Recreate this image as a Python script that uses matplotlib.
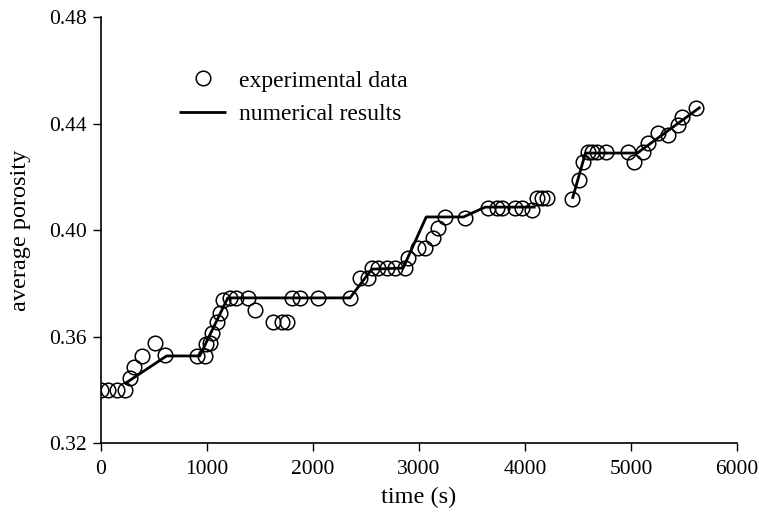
import numpy as np
import matplotlib
matplotlib.use("Agg")
import matplotlib.pyplot as plt

# experimental data
exp_time = [0, 70, 150, 230, 270, 310, 390, 506, 600, 903, 978, 995, 1025, 1045,
            1090, 1120, 1150, 1215, 1270, 1385, 1450, 1620, 1706, 1753, 1800, 1876,
            2046, 2349, 2443, 2520, 2557, 2615, 2700, 2775, 2870, 2900, 2990, 3055,
            3130, 3180, 3245, 3430, 3648, 3733, 3785, 3908, 3974, 4068, 4115, 4163,
            4210, 4447, 4505, 4550, 4590, 4636, 4683, 4760, 4967, 5025, 5110, 5157,
            5250, 5345, 5440, 5485, 5610]
exp_por = [0.340, 0.340, 0.340, 0.340, 0.3444, 0.3485, 0.3527, 0.3576, 0.3531, 0.3527,
           0.3527, 0.357, 0.3576, 0.3613, 0.3654, 0.369, 0.3737, 0.3745, 0.3745, 0.3745,
           0.370, 0.3654, 0.3654, 0.3654, 0.3745, 0.3745, 0.3745, 0.3745, 0.382, 0.382,
           0.3857, 0.3857, 0.3857, 0.3857, 0.3857, 0.3895, 0.3932, 0.3932, 0.397, 0.4007,
           0.4049, 0.4045, 0.4083, 0.4083, 0.4083, 0.4083, 0.4083, 0.4075, 0.412, 0.412,
           0.412, 0.4117, 0.4188, 0.4255, 0.4293, 0.4293, 0.4293, 0.4293, 0.4293, 0.4255,
           0.4293, 0.4327, 0.4364, 0.4357, 0.4394, 0.4424, 0.4458]

# numerical results (gap between segments)
num_time = [222, 619, 931, 1196, 2349, 2555, 2850, 3068, 3420, 3625, 4100, np.nan,
            4447, 4570, 5060, 5655]
num_por = [0.3422, 0.3527, 0.3527, 0.3745, 0.3745, 0.3853, 0.3857, 0.4049, 0.4049,
           0.4086, 0.4086, np.nan, 0.4117, 0.4289, 0.4289, 0.4462]

x_ticks = [0, 1000, 2000, 3000, 4000, 5000, 6000]
y_ticks = [0.32, 0.36, 0.40, 0.44, 0.48]
y_tick_labels = ["0.32", "0.36", "0.40", "0.44", "0.48"]

plt.rcParams['font.family'] = ['Liberation Serif', 'DejaVu Serif']
fs = 17.5
fs_tick = 15.5

fig = plt.figure(figsize=(7.59, 5.17), dpi=100)
ax = fig.add_axes([101 / 759, 74 / 517, 636 / 759, 426 / 517])

ax.plot(num_time, num_por, color='black', lw=2.0, solid_capstyle='butt',
        label='numerical results', zorder=2)
ax.plot(exp_time, exp_por, linestyle='none', marker='o', markersize=10.5,
        markerfacecolor='none', markeredgecolor='black', markeredgewidth=1.1,
        label='experimental data', zorder=3)

ax.set_xlim(0, 6000)
ax.set_ylim(0.32, 0.48)
ax.set_xticks(x_ticks)
ax.set_yticks(y_ticks)
ax.set_yticklabels(y_tick_labels)
ax.tick_params(axis='both', direction='out', length=6, width=1, labelsize=fs_tick, pad=4)
ax.tick_params(axis='x', pad=6)
for s in ['top', 'right']:
    ax.spines[s].set_visible(False)
for s in ['left', 'bottom']:
    ax.spines[s].set_linewidth(1.2)

ax.set_xlabel('time (s)', fontsize=fs)
ax.set_ylabel('average porosity', fontsize=fs)
ax.xaxis.set_label_coords(0.5, -0.103)
ax.yaxis.set_label_coords(-0.110, 0.5)

handles, labels = ax.get_legend_handles_labels()
leg = ax.legend(handles[::-1], labels[::-1], loc='upper left',
                bbox_to_anchor=(179 / 759, 1 - 70 / 517), bbox_transform=fig.transFigure,
                frameon=False, fontsize=17, handlelength=2.0, handletextpad=0.55,
                labelspacing=0.5, borderpad=0, borderaxespad=0)

fig.savefig('out.png', dpi=100)
